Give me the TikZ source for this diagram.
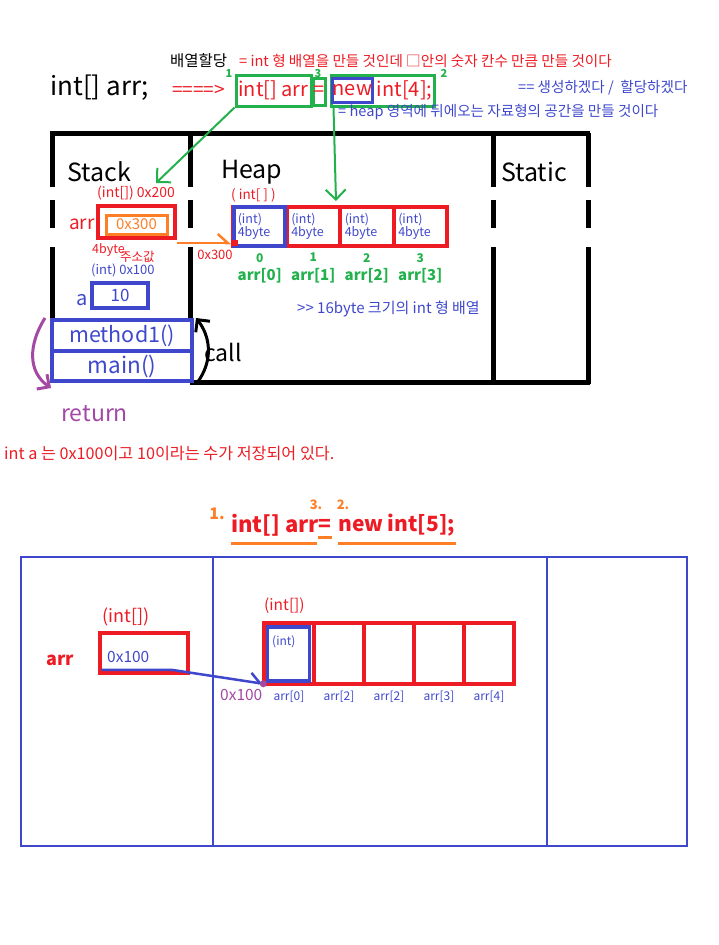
\documentclass[tikz,border=0pt]{standalone}
\usepackage{fontspec}
\setmainfont{Noto Sans CJK KR}
\usetikzlibrary{positioning,arrows.meta}
\definecolor{pred}{RGB}{237,28,36}
\definecolor{pblue}{RGB}{63,72,204}
\definecolor{pgreen}{RGB}{34,177,76}
\definecolor{porange}{RGB}{255,127,39}
\definecolor{ppurple}{RGB}{163,73,164}
\newcommand{\fsz}[1]{\fontsize{#1}{#1}\selectfont}

\begin{document}
\begin{tikzpicture}[x=1pt, y=-1pt,
    every node/.style={inner sep=0pt, font=\fsz{13}},
    wall/.style={line width=5pt},
    gbox/.style={draw=pgreen, line width=3pt},
    bbox/.style={draw=pblue, line width=4pt},
    rbox/.style={draw=pred, line width=4pt},
    cell/.style={rbox, minimum width=53.5pt, minimum height=39pt, text width=44pt, align=left, text=pblue, font=\fsz{12.5}},
    bcell/.style={draw=pred, line width=3.5pt, minimum width=50pt, minimum height=61pt},
    idx/.style={text=pgreen, font=\bfseries\fsz{12}},
    garrow/.style={pgreen, line width=2pt, -{Straight Barb[length=10pt,width=20pt]}},
    harrow/.style={line width=2.5pt, -{Straight Barb[left,length=10pt,width=18pt]}},
    uline/.style={porange, line width=3pt}]

    \useasboundingbox (0,0) rectangle (719,945);

    % declaration line
    \node[anchor=west, font=\fsz{26}] (decl) at (50,88) {int[] arr;};
    \node[anchor=west, font=\fsz{15.5}] (alloc) at (170,61) {배열할당};
    \node[anchor=west, text=pred, font=\fsz{14.6}] (note1) at (239,61) {= int 형 배열을 만들 것인데 □안의 숫자 칸수 만큼 만들 것이다};
    \node[anchor=west, text=pred, font=\fsz{19}] (implies) at (172,91) {====>};
    \node[gbox, minimum width=75pt, minimum height=31pt, text=pred, font=\fsz{20}] (lhs) at (273.5,90.5) {int[] arr};
    \node[gbox, minimum width=11pt, minimum height=27pt, text=pred, font=\fsz{20}] (eq) at (319.5,91.5) {=};
    \node[gbox, minimum width=103pt, minimum height=31pt] (rhs) at (382.5,90.5) {};
    \node[draw=pblue, line width=3pt, minimum width=39pt, minimum height=24pt, text=pred, font=\fsz{20}] (new) at (352.5,90) {new};
    \node[anchor=west, text=pred, font=\fsz{20}, right=3pt of new] (newint) {int[4];};
    \node[idx, font=\bfseries\fsz{11}] at (229,74) {1};
    \node[idx, font=\bfseries\fsz{11}] at (318,74) {3};
    \node[idx, font=\bfseries\fsz{11}] at (444,73) {2};
    \node[anchor=west, text=pblue, font=\fsz{14.6}] (note2) at (518,88) {== 생성하겠다 /\ \ 할당하겠다};
    \node[anchor=west, text=pblue, font=\fsz{14.6}] (note3) at (338,112) {= heap 영역에 뒤에오는 자료형의 공간을 만들 것이다};

    % memory frame
    \draw[wall] (50,133) -- (590,133);
    \draw[wall] (190,382) -- (590,382);
    \foreach \x in {52,190,493,588} {
        \draw[wall] (\x,133) -- (\x,187);
        \draw[wall] (\x,200) -- (\x,228);
    }
    \draw[wall] (52,247) -- (52,320);
    \draw[wall] (190,247) -- (190,320);
    \draw[wall] (493,247) -- (493,382);
    \draw[wall] (588,247) -- (588,384);

    \node[font=\fsz{25}, anchor=west] (stack) at (67,172) {Stack};
    \node[font=\fsz{25}, anchor=west] (heap) at (221,172) {Heap};
    \node[font=\fsz{25}, anchor=west] (static) at (501,172) {Static};

    \coordinate (stacktip) at (156,183);
    \coordinate (heaptip) at (336,201);
    \draw[garrow] (lhs.south west) -- (stacktip);
    \draw[garrow] ([xshift=4pt]rhs.south west) -- (heaptip);

    % stack
    \node[anchor=west, text=pred, font=\fsz{14}] (arrtype) at (97,193) {(int[]) 0x200};
    \node[anchor=west, text=pred, font=\fsz{19}] (arrname) at (69,224) {arr};
    \node[rbox, minimum width=77pt, minimum height=32pt] (arrbox) at (136.5,222) {};
    \node[draw=porange, line width=3pt, minimum width=61pt, minimum height=19pt, text=porange, font=\fsz{15}] (arrval) at (136.5,224.5) {0x300\hspace{10pt}};
    \node[anchor=west, text=pred, font=\fsz{12.5}] (size) at (92,250) {4byte};
    \node[anchor=west, text=pred, font=\fsz{12.5}] (addr) at (120,257) {주소값};
    \node[anchor=west, text=pblue] (atype) at (91,270) {(int) 0x100};
    \node[anchor=west, text=pblue, font=\fsz{20}] (aname) at (76,300) {a};
    \node[bbox, minimum width=56pt, minimum height=25pt, text=pblue, font=\fsz{17}] (abox) at (120,295.5) {10};
    \node[bbox, minimum width=140pt, minimum height=31pt, text=pblue, font=\fsz{21.5}] (method) at (122,335.5) {method1()};
    \node[bbox, minimum width=140pt, minimum height=30pt, text=pblue, font=\fsz{22.5}] (main) at (122,366) {main()};

    \draw[line width=3pt, -{Straight Barb[length=9pt,width=18pt]}] ([xshift=3pt]main.south east) .. controls (214,360) and (210,336) .. ([xshift=2pt]method.north east);
    \node[anchor=west, font=\fsz{23}] (call) at (204,352) {call};
    \draw[ppurple, line width=3pt, -{Straight Barb[length=9pt,width=18pt]}] ([xshift=-5pt]method.north west) .. controls (28,345) and (28,372) .. ([shift={(1,5)}]main.south west);
    \node[anchor=west, text=ppurple, font=\fsz{23}] (return) at (61,414) {return};

    % heap
    \node[anchor=west, text=pred, font=\fsz{13.5}] (heaptype) at (231,195) {( int[ ] )};
    \foreach \i in {0,...,3} {
        \node[cell] (h\i) at (259.75+53.5*\i,226.5) {(int)\\4byte};
        \node[idx, below=5pt of h\i] (n\i) {\i};
        \node[idx, font=\bfseries\fsz{15}, below=6pt of n\i] (a\i) {arr[\i]};
    }
    \node[bbox, minimum width=51pt, minimum height=39pt] (h0blue) at (h0) {};
    \draw[harrow, porange] ([yshift=-3pt]arrbox.south east) -- ([yshift=5pt]h0.south west);
    \fill[pred] (232,240) rectangle (238,246);
    \node[text=pred] (heapaddr) at (215,255) {0x300};
    \node[anchor=west, text=pblue, font=\fsz{15}] (hsize) at (297,309) {>{}> 16byte 크기의 int 형 배열};

    \node[anchor=west, text=pred, font=\fsz{16.2}] (summary) at (4,453) {int a 는 0x100이고 10이라는 수가 저장되어 있다.};

    % second example
    \node[text=porange, font=\bfseries\fsz{16}] (s1) at (217,514) {1.};
    \node[text=porange, font=\bfseries\fsz{13}] (s3) at (316,505) {3.};
    \node[text=porange, font=\bfseries\fsz{13}] (s2) at (343,505) {2.};
    \node[anchor=west, text=pred, font=\bfseries\fsz{22}] (lhs2) at (231,525) {int[] arr};
    \node[text=pred, font=\bfseries\fsz{21}] (eq2) at (325,525) {=};
    \node[anchor=west, text=pred, font=\bfseries\fsz{21}] (rhs2) at (338,525) {new int[5];};
    \draw[uline] (231,543) -- (317,543);
    \draw[uline] (318,537) -- (332,537);
    \draw[uline] (338,543) -- (456,543);

    \draw[pblue, line width=2pt] (21,557) rectangle (687,846);
    \draw[pblue, line width=2pt] (213,557) -- (213,846);
    \draw[pblue, line width=2pt] (547,557) -- (547,846);

    \node[text=pred, font=\bfseries\fsz{18}] (arr2) at (60,660) {arr};
    \node[anchor=west, text=pred, font=\fsz{18}] (ptrtype) at (102,617) {(int[])};
    \node[draw=pred, line width=3.5pt, minimum width=88pt, minimum height=40pt] (ptrbox) at (144,653) {};
    \node[anchor=west, text=pblue, font=\fsz{15.5}] (ptrval) at (107,657) {0x100};

    \node[anchor=west, text=pred, font=\fsz{15.5}] (arrtype2) at (264,606) {(int[])};
    \foreach \i/\t in {0/arr[0],1/arr[2],2/arr[2],3/arr[3],4/arr[4]} {
        \node[bcell] (b\i) at (289+50*\i,653.5) {};
        \node[text=pblue, font=\fsz{12}, below=5pt of b\i] (l\i) {\t};
    }
    \node[draw=pblue, line width=3.5pt, minimum width=42pt, minimum height=54pt] (b0blue) at (288.5,654) {};
    \node[anchor=west, text=pblue, font=\fsz{12}] (b0type) at (272,642) {(int)};

    \draw[harrow, pblue] ([shift={(3,-5)}]ptrbox.south west) -- ++(70,0) -- ([shift={(1,-2)}]b0.south west);
    \fill[ppurple] ([shift={(1,-2)}]b0.south west) circle (3.5);
    \node[anchor=west, text=ppurple, font=\fsz{15.5}] (heapaddr2) at (220,695) {0x100};
\end{tikzpicture}
\end{document}
